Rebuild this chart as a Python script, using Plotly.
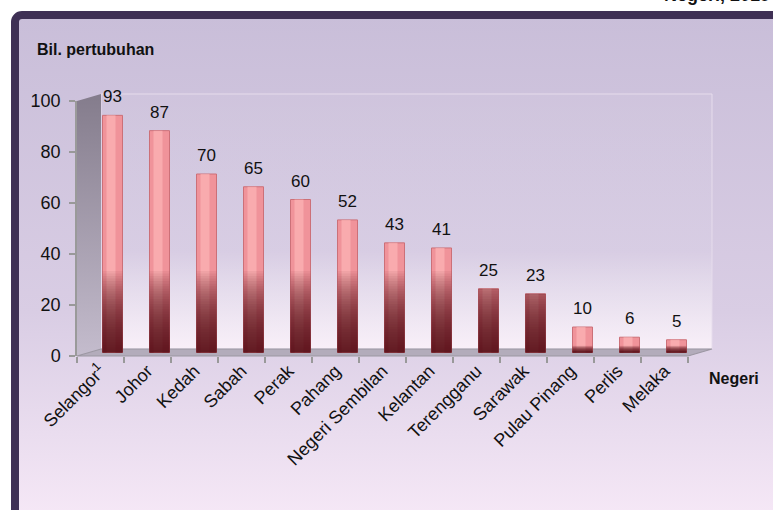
import base64
import plotly.graph_objects as go

# ---------------- data ----------------
states = ["Selangor<sup>1</sup>", "Johor", "Kedah", "Sabah", "Perak", "Pahang",
          "Negeri Sembilan", "Kelantan", "Terengganu", "Sarawak", "Pulau Pinang",
          "Perlis", "Melaka"]
counts = [93, 87, 70, 65, 60, 52, 43, 41, 25, 23, 10, 6, 5]
y_ticks = [0, 20, 40, 60, 80, 100]
y_title = "Bil. pertubuhan"
x_title = "Negeri"
top_text = "Negeri, 2019"

# ---------------- geometry (pixels) ----------------
W, H = 773, 510
X0, X1 = 77, 688          # plot area left / right
Y0, Y100 = 356, 101       # pixel of value 0 and 100
DX, DY = 24, 7            # 3D depth offset
BAND = (X1 - X0) / len(states)
PXU = (Y0 - Y100) / 100.0  # pixels per unit
BAR_W = 20
SHIFT = DX / 2

def px(x):
    return x / W

def py(y):
    return 1 - y / H

# ---------------- background picture (panel, walls, floor) ----------------
svg = f'''<svg xmlns="http://www.w3.org/2000/svg" width="{W}" height="{H}" viewBox="0 0 {W} {H}" preserveAspectRatio="none">
<defs>
<linearGradient id="bg" x1="0" y1="0" x2="0" y2="1">
<stop offset="0" stop-color="#c9bed9"/><stop offset="0.55" stop-color="#d9cde4"/><stop offset="1" stop-color="#fbedfa"/></linearGradient>
<linearGradient id="wall" x1="0" y1="0" x2="0" y2="1">
<stop offset="0" stop-color="#ffffff" stop-opacity="0.04"/><stop offset="0.62" stop-color="#ffffff" stop-opacity="0.06"/>
<stop offset="1" stop-color="#fff6fc" stop-opacity="0.8"/></linearGradient>
<linearGradient id="side" x1="0" y1="0" x2="0" y2="1">
<stop offset="0" stop-color="#847c8c"/><stop offset="1" stop-color="#c4bccd"/></linearGradient>
</defs>
<rect x="15" y="15" width="820" height="540" rx="7" fill="url(#bg)" stroke="#3f3055" stroke-width="8"/>
<polygon points="{X0+DX},{Y100-DY} {X1+DX},{Y100-DY} {X1+DX},{Y0-DY} {X0+DX},{Y0-DY}" fill="url(#wall)" stroke="#e6dcec" stroke-width="1"/>
<polygon points="{X0},{Y100} {X0+DX},{Y100-DY} {X0+DX},{Y0-DY} {X0},{Y0}" fill="url(#side)"/>
<polygon points="{X0},{Y0} {X1},{Y0} {X1+DX},{Y0-DY} {X0+DX},{Y0-DY}" fill="#b3acbb" stroke="#9c97a2" stroke-width="1.2"/>
</svg>'''
src = "data:image/svg+xml;base64," + base64.b64encode(svg.encode()).decode()

fig = go.Figure()

off = (SHIFT - BAR_W / 2) / BAND
wid = BAR_W / BAND

# invisible trace that keeps the labelled value axis alive
fig.add_trace(go.Scatter(x=states, y=counts, yaxis="y", mode="markers",
                         marker=dict(opacity=0, size=1), hoverinfo="skip", showlegend=False))

# main cylinder body
fig.add_trace(go.Bar(x=states, y=counts, yaxis="y2", width=wid, offset=off,
                     marker=dict(color="#f0939a", line=dict(color="#cc7078", width=1)),
                     hoverinfo="x+y"))
# highlight strip
fig.add_trace(go.Bar(x=states, y=counts, yaxis="y2", width=9 / BAND,
                     offset=(SHIFT - 6) / BAND,
                     marker=dict(color="#ffbcbc", line=dict(width=0)), opacity=0.6,
                     hoverinfo="skip"))
# dark shading at the foot of tall cylinders
for lvl in range(1, 33):
    shade = [min(v, lvl) if v >= 20 else min(v, lvl / 12) for v in counts]
    fig.add_trace(go.Bar(x=states, y=shade, yaxis="y2", width=wid, offset=off,
                         marker=dict(color="#4e0710", line=dict(width=0)), opacity=0.052,
                         hoverinfo="skip"))

# value labels
for s, v in zip(states, counts):
    fig.add_annotation(x=s, y=v, xref="x", yref="y2", text=str(v), showarrow=False,
                       xshift=SHIFT, yshift=7, yanchor="bottom",
                       font=dict(size=17, color="#111111", family="Liberation Sans, Arial"))

fig.add_annotation(x=px(35), y=py(50), xref="paper", yref="paper", text=f"<b>{y_title}</b>",
                   showarrow=False, xanchor="left", yanchor="middle",
                   font=dict(size=16, color="#111111", family="Liberation Sans, Arial"))
fig.add_annotation(x=px(734), y=py(378), xref="paper", yref="paper", text=f"<b>{x_title}</b>",
                   showarrow=False, xanchor="center", yanchor="middle",
                   font=dict(size=16, color="#111111", family="Liberation Sans, Arial"))
fig.add_annotation(x=px(772), y=py(7), xref="paper", yref="paper", text=f"<b>{top_text}</b>",
                   showarrow=False, xanchor="right", yanchor="bottom",
                   font=dict(size=18, color="#111111", family="Liberation Sans, Arial"))

fig.update_layout(
    width=W, height=H, autosize=False,
    margin=dict(l=0, r=0, t=0, b=0, pad=0, autoexpand=False),
    paper_bgcolor="white", plot_bgcolor="rgba(0,0,0,0)",
    barmode="overlay", showlegend=False,
    font=dict(family="Liberation Sans, Arial", size=16, color="#111111"),
    images=[dict(source=src, xref="paper", yref="paper", x=0, y=1, sizex=1, sizey=1,
                 sizing="stretch", xanchor="left", yanchor="top", layer="below")],
    xaxis=dict(domain=[px(X0), px(X1)], type="category", range=[-0.5, len(states) - 0.5],
               anchor="y", automargin=False,
               showline=False, showgrid=False, zeroline=False,
               ticks="outside", tickson="boundaries", ticklen=6, tickcolor="#999999", tickwidth=1.5,
               tickangle=-45, tickfont=dict(size=18, color="#111111")),
    yaxis=dict(domain=[py(Y0), py(Y100)], range=[0, 100], tickvals=y_ticks,
               anchor="x", side="left", automargin=False, ticklabeloverflow="allow",
               showticklabels=True, ticklabelstandoff=5,
               showline=True, linecolor="#9a9a9a", linewidth=1.5, showgrid=False, zeroline=False,
               ticks="outside", ticklen=6, tickcolor="#999999", tickwidth=1.5,
               tickfont=dict(size=18, color="#111111")),
    yaxis2=dict(domain=[py(Y0), py(Y100)], overlaying="y", anchor="x", automargin=False,
                range=[-(DY / 2) / PXU, 100 - (DY / 2) / PXU], visible=False),
)

fig.write_html("out.html", config={"displayModeBar": False},
               post_script="document.body.style.margin='0';")
